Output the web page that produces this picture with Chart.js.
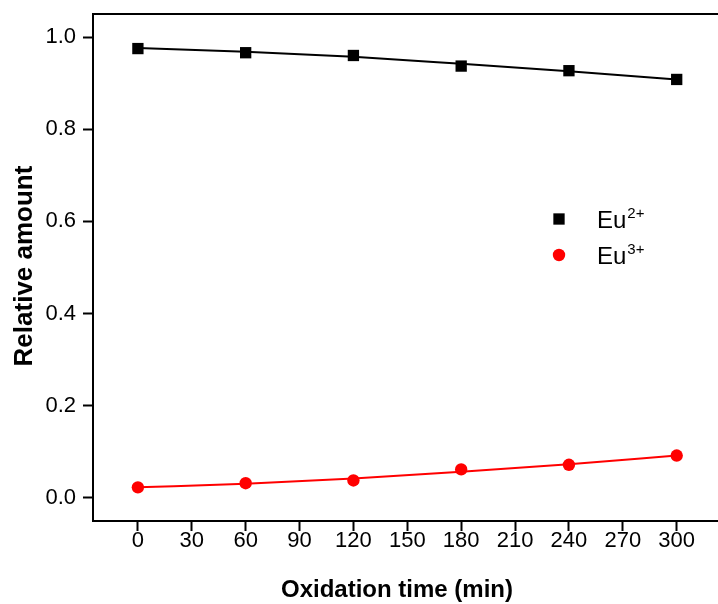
<!DOCTYPE html>
<html>
<head>
<meta charset="utf-8">
<script src="https://cdn.jsdelivr.net/npm/chart.js@4/dist/chart.umd.min.js"></script>
<style>
  html, body { margin: 0; padding: 0; background: #fff; overflow: hidden; }
  #chart { display: block; }
</style>
</head>
<body>
<canvas id="chart" width="718" height="604"></canvas>
<script>
// Oxidation time (min) and measured relative amounts of the two europium valence states
const timeMin = [0, 60, 120, 180, 240, 300];
const eu2Amount = [0.975, 0.966, 0.960, 0.937, 0.927, 0.908];
const eu3Amount = [0.023, 0.032, 0.038, 0.062, 0.072, 0.092];

// Fitted trend curves evaluated at the same times
const eu2Fit = [0.976, 0.968, 0.957, 0.942, 0.926, 0.908];
const eu3Fit = [0.023, 0.031, 0.042, 0.057, 0.073, 0.092];

const xTickValues = [0, 30, 60, 90, 120, 150, 180, 210, 240, 270, 300];
const yTickValues = [0.0, 0.2, 0.4, 0.6, 0.8, 1.0];

const seriesLabels = [
  { base: 'Eu', sup: '2+', color: '#000000', style: 'rect', radius: 8 },
  { base: 'Eu', sup: '3+', color: '#ff0000', style: 'circle', radius: 6.2 }
];

const FONT = "'Liberation Sans', Arial, Helvetica, sans-serif";

const toPoints = (xs, ys) => xs.map((x, i) => ({ x: x, y: ys[i] }));

// Top edge of the frame
const frameTop = {
  id: 'frameTop',
  afterDraw(chart) {
    const { ctx, chartArea } = chart;
    ctx.save();
    ctx.strokeStyle = '#000';
    ctx.lineWidth = 2;
    ctx.beginPath();
    ctx.moveTo(chartArea.left - 1, chartArea.top);
    ctx.lineTo(chartArea.right, chartArea.top);
    ctx.stroke();
    ctx.restore();
  }
};

// Bold axis titles
const axisTitles = {
  id: 'axisTitles',
  afterDraw(chart) {
    const { ctx } = chart;
    ctx.save();
    ctx.fillStyle = '#000';
    ctx.textAlign = 'center';
    ctx.textBaseline = 'middle';
    ctx.font = 'bold 24px ' + FONT;
    ctx.fillText('Oxidation time (min)', 397, 590);
    ctx.translate(25, 266);
    ctx.rotate(-Math.PI / 2);
    ctx.font = 'bold 26px ' + FONT;
    ctx.fillText('Relative amount', 0, 0);
    ctx.restore();
  }
};

// Legend with superscript charge labels
const chargeLegend = {
  id: 'chargeLegend',
  afterDraw(chart) {
    const { ctx } = chart;
    const markerX = 559, textX = 597, rowY = [219, 255];
    seriesLabels.forEach((s, i) => {
      const y = rowY[i];
      ctx.save();
      ctx.fillStyle = s.color;
      ctx.strokeStyle = s.color;
      Chart.helpers.drawPoint(ctx, { pointStyle: s.style, radius: s.radius, borderWidth: 0 }, markerX, y);
      ctx.fillStyle = '#000';
      ctx.textBaseline = 'alphabetic';
      ctx.textAlign = 'left';
      ctx.font = '24px ' + FONT;
      const base = y + 9;
      ctx.fillText(s.base, textX, base);
      const w = ctx.measureText(s.base).width;
      ctx.font = '15px ' + FONT;
      ctx.fillText(s.sup, textX + w + 1, base - 10);
      ctx.restore();
    });
  }
};

const axisStyle = {
  border: { display: true, color: '#000', width: 2 },
  grid: {
    display: true,
    drawOnChartArea: false,
    drawTicks: true,
    tickLength: 10,
    tickColor: '#000',
    tickWidth: 2
  }
};

new Chart(document.getElementById('chart'), {
  type: 'scatter',
  data: {
    datasets: [
      {
        label: 'Eu2+ fit',
        data: toPoints(timeMin, eu2Fit),
        showLine: true,
        borderColor: '#000000',
        borderWidth: 2,
        pointRadius: 0,
        cubicInterpolationMode: 'monotone'
      },
      {
        label: 'Eu3+ fit',
        data: toPoints(timeMin, eu3Fit),
        showLine: true,
        borderColor: '#ff0000',
        borderWidth: 2,
        pointRadius: 0,
        cubicInterpolationMode: 'monotone'
      },
      {
        label: 'Eu2+',
        data: toPoints(timeMin, eu2Amount),
        showLine: false,
        backgroundColor: '#000000',
        borderColor: '#000000',
        pointStyle: 'rect',
        pointRadius: 8,
        pointBorderWidth: 0
      },
      {
        label: 'Eu3+',
        data: toPoints(timeMin, eu3Amount),
        showLine: false,
        backgroundColor: '#ff0000',
        borderColor: '#ff0000',
        pointStyle: 'circle',
        pointRadius: 6.2,
        pointBorderWidth: 0
      }
    ]
  },
  options: {
    responsive: false,
    animation: false,
    layout: { autoPadding: false, padding: { top: 14, right: 0, left: 0, bottom: 0 } },
    plugins: {
      legend: { display: false },
      tooltip: { enabled: false }
    },
    scales: {
      x: Object.assign({
        type: 'linear',
        min: -25,
        max: 323,
        afterBuildTicks(scale) { scale.ticks = xTickValues.map(v => ({ value: v })); },
        afterFit(scale) {
          scale.height = 83;
          scale.paddingLeft = 0;
          scale.paddingRight = 0;
        },
        ticks: {
          color: '#000',
          padding: -3,
          maxRotation: 0,
          autoSkip: false,
          font: { family: FONT, size: 22 },
          callback: v => String(v)
        }
      }, axisStyle),
      y: Object.assign({
        type: 'linear',
        min: -0.05,
        max: 1.05,
        afterBuildTicks(scale) { scale.ticks = yTickValues.map(v => ({ value: v })); },
        afterFit(scale) {
          scale.width = 93;
          scale.paddingTop = 0;
          scale.paddingBottom = 0;
        },
        ticks: {
          color: '#000',
          padding: 7,
          autoSkip: false,
          font: { family: FONT, size: 22 },
          callback: v => Number(v).toFixed(1)
        }
      }, axisStyle)
    }
  },
  plugins: [frameTop, axisTitles, chargeLegend]
});
</script>
</body>
</html>
